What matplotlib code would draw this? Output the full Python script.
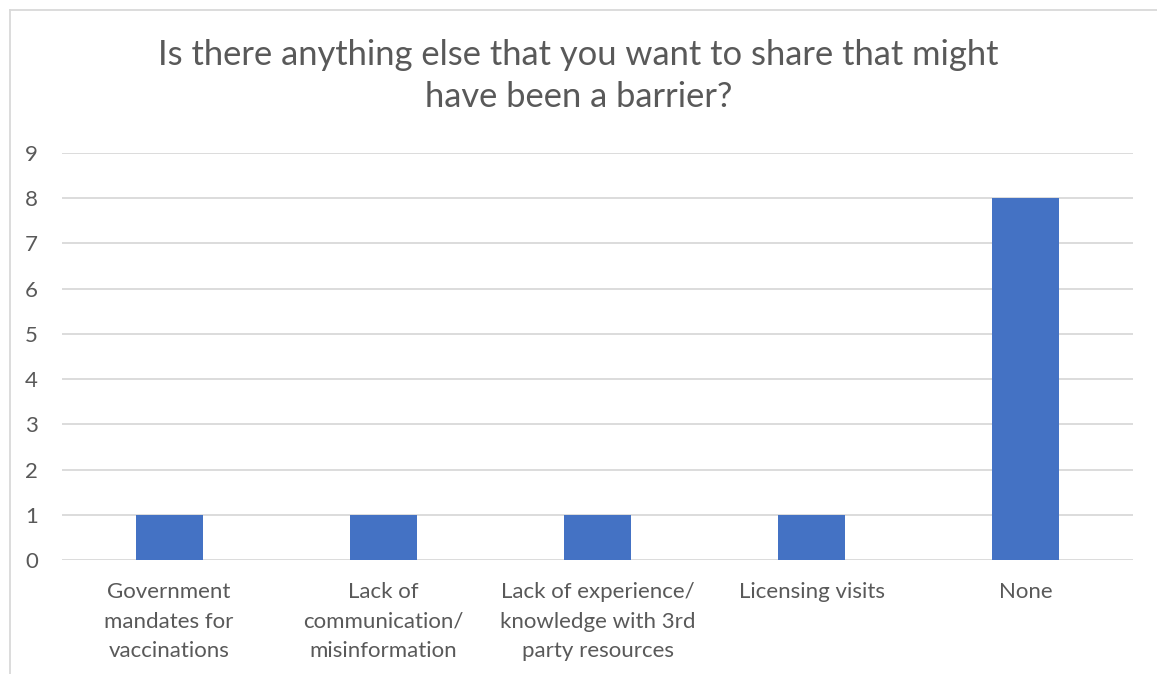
import matplotlib
matplotlib.use("Agg")
import matplotlib.pyplot as plt
from matplotlib.lines import Line2D

categories = [
    "Government\nmandates for\nvaccinations",
    "Lack of\ncommunication/\nmisinformation",
    "Lack of experience/\nknowledge with 3rd\nparty resources",
    "Licensing visits",
    "None",
]
counts = [1, 1, 1, 1, 8]
yticks = list(range(0, 10))
title = "Is there anything else that you want to share that might\nhave been a barrier?"

plt.rcParams["font.family"] = ["Lato", "DejaVu Sans"]
text_color = "#595959"
grid_color = "#d9d9d9"
bar_color = "#4472C4"

W, H = 1157, 674
fig = plt.figure(figsize=(W / 100, H / 100), dpi=100)
fig.patch.set_facecolor("white")

# chart frame (left and top edges visible)
fig.add_artist(Line2D([10 / W, 10 / W], [0, 1 - 9.5 / H], color=grid_color, lw=1.3,
                      transform=fig.transFigure))
fig.add_artist(Line2D([10 / W, 1], [1 - 9.5 / H, 1 - 9.5 / H], color=grid_color, lw=1.3,
                      transform=fig.transFigure))

ax = fig.add_axes([62 / W, 114 / H, (1133 - 62) / W, (560 - 153) / H])
x = range(len(categories))
ax.bar(x, counts, width=0.313, color=bar_color, zorder=3)
ax.set_xlim(-0.5, len(categories) - 0.5)
ax.set_ylim(0, 9)
ax.set_yticks(yticks)
ax.set_xticks(list(x))
ax.set_xticklabels(categories, linespacing=1.58)
ax.grid(axis="y", color=grid_color, lw=1.3, zorder=0)
for s in ax.spines.values():
    s.set_visible(False)
ax.tick_params(axis="both", length=0, colors=text_color, labelsize=16)
ax.tick_params(axis="y", pad=22)
ax.tick_params(axis="x", pad=16)
for lbl in ax.get_yticklabels():
    lbl.set_horizontalalignment("center")

fig.text(0.5, 1 - 76 / H, title, ha="center", va="center", fontsize=24.8,
         color=text_color, linespacing=1.38)

fig.savefig("out.png", dpi=100, facecolor="white")
